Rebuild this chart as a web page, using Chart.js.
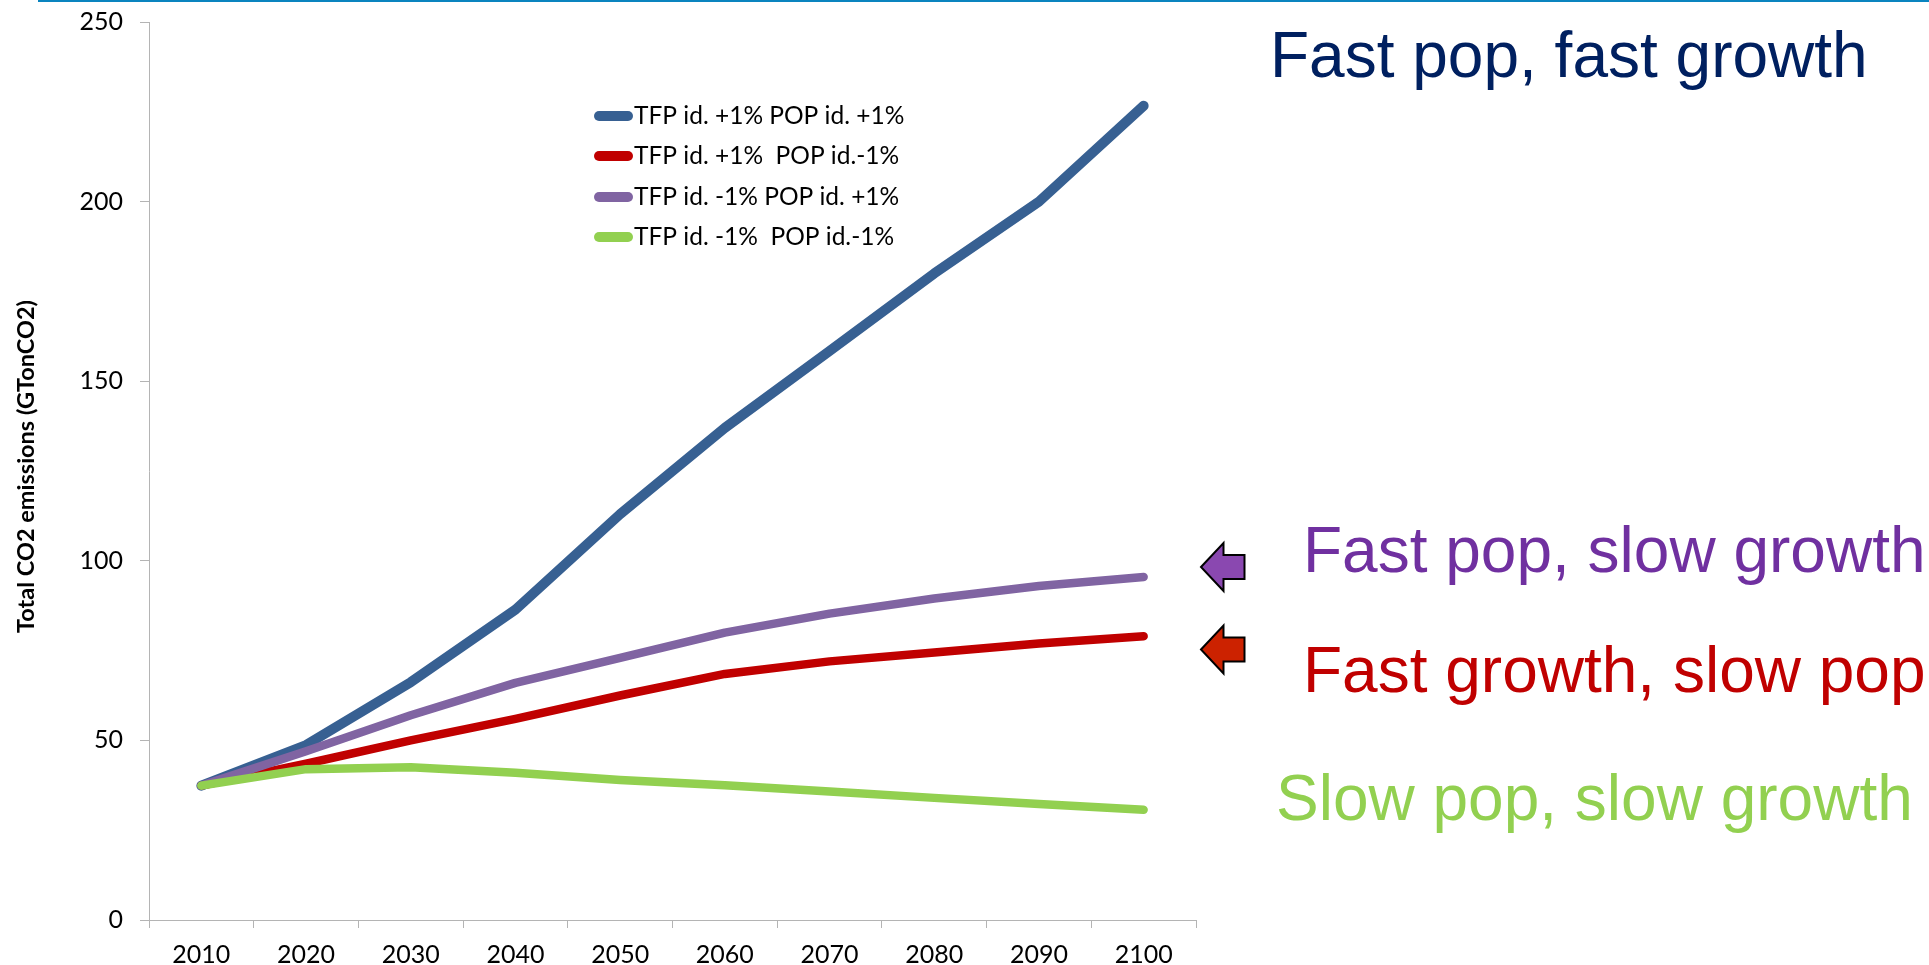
<!DOCTYPE html>
<html>
<head>
<meta charset="utf-8">
<style>
  body { margin: 0; background: #fff; }
  canvas { display: block; }
  #rule { position: absolute; left: 38px; top: 0; right: 0; height: 2px; background: #0a84bf; }
</style>
</head>
<body>
<div id="rule"></div>
<canvas id="myChart" width="1929" height="965"></canvas>
<script src="https://cdn.jsdelivr.net/npm/chart.js@4/dist/chart.umd.min.js"></script>
<script>
const years = ['2010', '2020', '2030', '2040', '2050', '2060', '2070', '2080', '2090', '2100'];
const fastPopFastGrowth = [37.4, 48.7, 66.2, 86.4, 113, 137, 158.4, 180, 200, 226.7];
const slowPopFastGrowth = [37.4, 43.5, 50, 56, 62.5, 68.5, 72, 74.5, 77, 79];
const fastPopSlowGrowth = [37.4, 47, 57, 66, 73, 80, 85.3, 89.5, 93, 95.5];
const slowPopSlowGrowth = [37.4, 42, 42.5, 41, 39, 37.5, 35.8, 34, 32.3, 30.7];
const seriesLabels = [
  'TFP id. +1% POP id. +1%',
  'TFP id. +1%  POP id.-1%',
  'TFP id. -1% POP id. +1%',
  'TFP id. -1%  POP id.-1%'
];
const seriesColors = ['#376092', '#c00000', '#8064a2', '#92d050'];
const seriesWidths = [10, 8.5, 8.5, 8.5];

const axisColor = '#b4b4b4';
const labelFont = 'Lato';

function makeLine(i, values) {
  return {
    label: seriesLabels[i],
    data: values,
    borderColor: seriesColors[i],
    backgroundColor: seriesColors[i],
    borderWidth: seriesWidths[i],
    borderCapStyle: 'round',
    borderJoinStyle: 'round',
    pointRadius: 0,
    tension: 0,
    order: 4 - i
  };
}

// legend sits inside the plot, so it is drawn by hand from the datasets
const insideLegend = {
  id: 'insideLegend',
  afterDraw(chart) {
    const c = chart.ctx;
    const rows = [116, 156, 197, 237];
    c.save();
    c.font = '24.5px ' + labelFont;
    c.textBaseline = 'middle';
    chart.data.datasets.forEach((ds, i) => {
      c.strokeStyle = ds.borderColor;
      c.lineWidth = 10;
      c.lineCap = 'round';
      c.beginPath();
      c.moveTo(599, rows[i]);
      c.lineTo(628, rows[i]);
      c.stroke();
      c.fillStyle = '#000';
      c.fillText(ds.label, 634, rows[i]);
    });
    c.restore();
  }
};

const sideNotes = [
  { text: 'Fast pop, fast growth', x: 1270, y: 77, color: '#002060' },
  { text: 'Fast pop, slow growth', x: 1303, y: 572, color: '#7030a0' },
  { text: 'Fast growth, slow pop', x: 1303, y: 692, color: '#c00000' },
  { text: 'Slow pop, slow growth', x: 1276, y: 820, color: '#92d050' }
];
const arrows = [
  { y: 567, fill: '#8a48b0' },
  { y: 649.5, fill: '#cc2200' }
];

// scenario captions, the two pointers and the y axis title
const notes = {
  id: 'notes',
  afterDraw(chart) {
    const c = chart.ctx;
    c.save();
    c.font = '64px "Liberation Sans"';
    c.textBaseline = 'alphabetic';
    sideNotes.forEach(n => {
      c.fillStyle = n.color;
      c.fillText(n.text, n.x, n.y);
    });
    arrows.forEach(a => {
      c.beginPath();
      c.moveTo(1201, a.y);
      c.lineTo(1223.5, a.y - 24);
      c.lineTo(1223.5, a.y - 12);
      c.lineTo(1244.5, a.y - 12);
      c.lineTo(1244.5, a.y + 12);
      c.lineTo(1223.5, a.y + 12);
      c.lineTo(1223.5, a.y + 24);
      c.closePath();
      c.fillStyle = a.fill;
      c.fill();
      c.strokeStyle = '#000';
      c.lineWidth = 2;
      c.stroke();
    });
    c.translate(26, 466.5);
    c.rotate(-Math.PI / 2);
    c.font = 'bold 23.5px ' + labelFont;
    c.textAlign = 'center';
    c.textBaseline = 'middle';
    c.fillStyle = '#000';
    c.fillText('Total CO2 emissions (GTonCO2)', 0, 0);
    c.restore();
  }
};

const ctx = document.getElementById('myChart').getContext('2d');
new Chart(ctx, {
  type: 'line',
  data: {
    labels: years,
    datasets: [
      makeLine(0, fastPopFastGrowth),
      makeLine(1, slowPopFastGrowth),
      makeLine(2, fastPopSlowGrowth),
      makeLine(3, slowPopSlowGrowth)
    ]
  },
  plugins: [insideLegend, notes],
  options: {
    responsive: false,
    animation: false,
    layout: { padding: { top: 22, right: 733, bottom: 0, left: 0 } },
    plugins: { legend: { display: false }, tooltip: { enabled: false } },
    scales: {
      x: {
        offset: true,
        afterFit(scale) { scale.height = 45; },
        grid: { offset: true, drawOnChartArea: false, color: axisColor, tickLength: 8 },
        border: { color: axisColor },
        ticks: { color: '#000', font: { family: labelFont, size: 25 }, padding: 12, maxRotation: 0, autoSkip: false }
      },
      y: {
        min: 0,
        max: 250,
        // tick padding would otherwise push the top of the plot down
        afterFit(scale) {
          scale.width = 149;
          scale.paddingTop = 0;
          scale.paddingBottom = 0;
        },
        grid: { drawOnChartArea: false, color: axisColor, tickLength: 9 },
        border: { color: axisColor },
        ticks: { stepSize: 50, color: '#000', font: { family: labelFont, size: 25 }, padding: 17 }
      }
    }
  }
});
</script>
</body>
</html>
